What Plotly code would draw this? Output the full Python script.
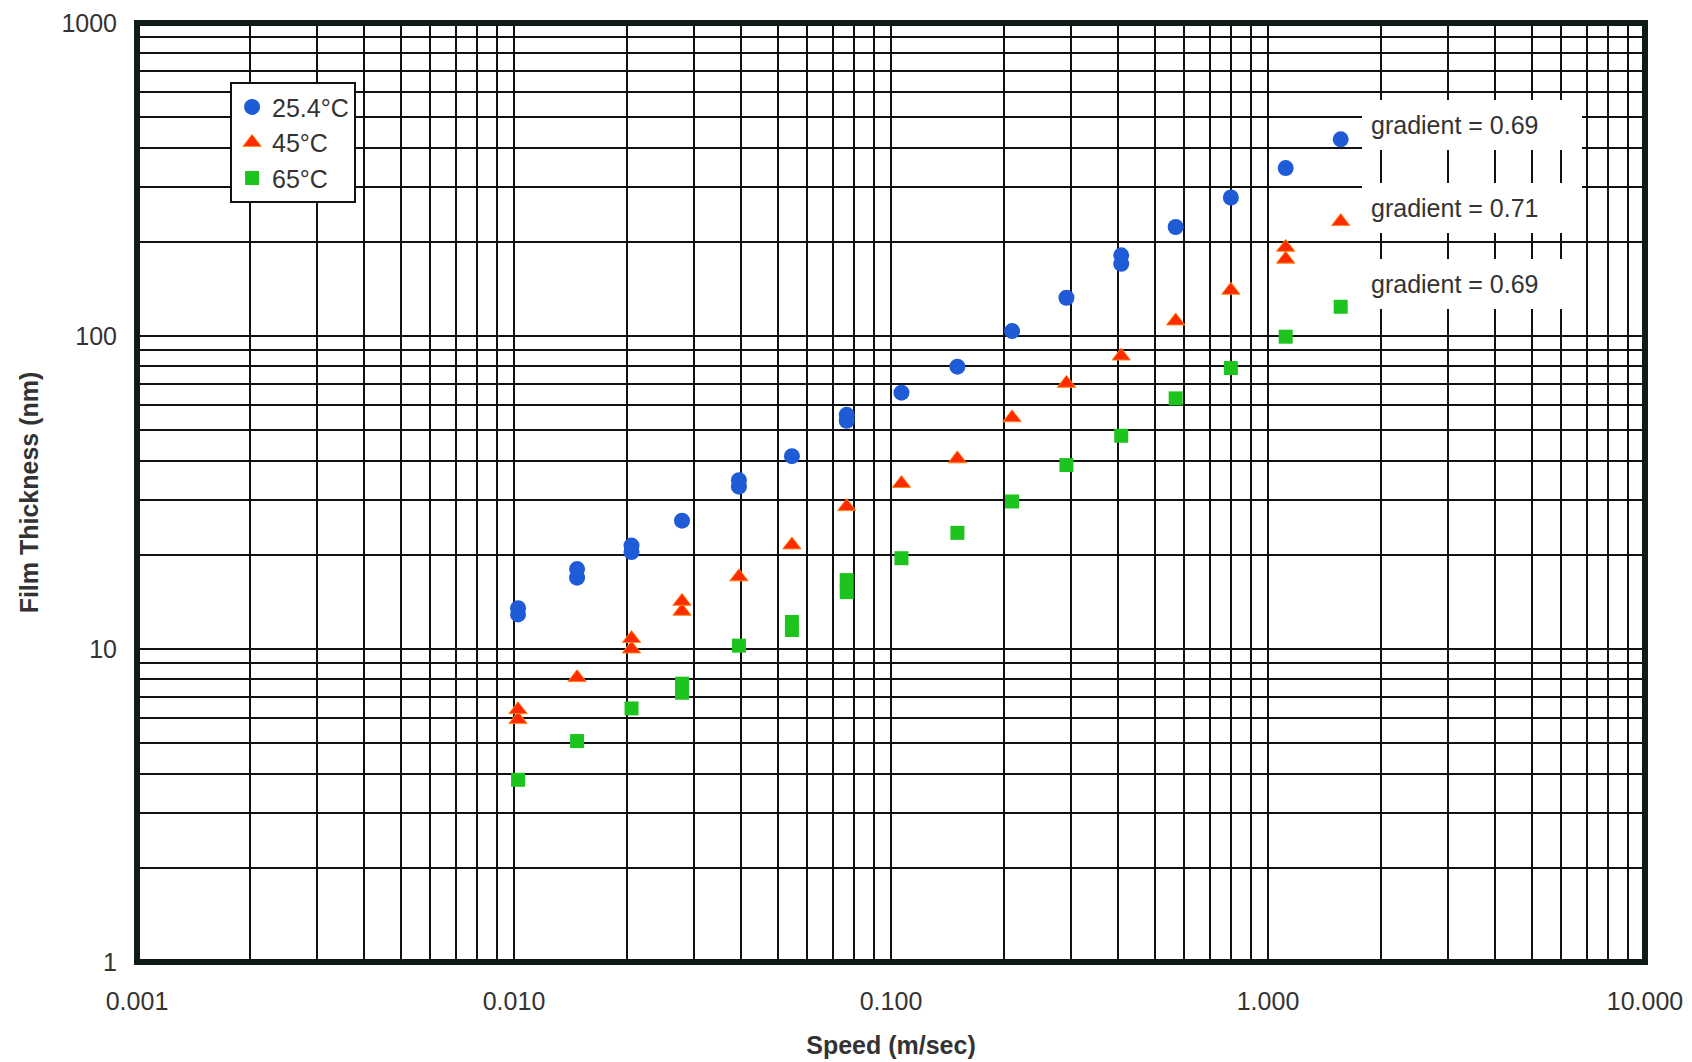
import math
import plotly.graph_objects as go

# Sliding speed (m/s) and measured film thickness (nm) for each temperature run
speed_254 = [0.01025, 0.01025, 0.0147, 0.0147, 0.0205, 0.0205, 0.0279, 0.0395, 0.0395,
             0.0546, 0.0763, 0.0763, 0.1066, 0.150, 0.2095, 0.292, 0.408, 0.408,
             0.569, 0.797, 1.114, 1.559]
film_254 = [12.9, 13.5, 16.9, 18.0, 20.4, 21.4, 25.7, 33.0, 34.6,
            41.3, 53.6, 56.0, 65.9, 79.8, 103.7, 132.5, 170, 181,
            223, 277, 344, 425]

speed_45 = [0.01025, 0.01025, 0.0147, 0.0205, 0.0205, 0.0279, 0.0279, 0.0395,
            0.0546, 0.0763, 0.1066, 0.150, 0.2095, 0.292, 0.408, 0.569,
            0.797, 1.114, 1.114, 1.559]
film_45 = [5.95, 6.4, 8.1, 10.0, 10.8, 13.2, 14.2, 17.0,
           21.5, 28.5, 33.8, 40.5, 54.8, 70.6, 86.3, 111.7,
           140, 176, 192, 232]

speed_65 = [0.01025, 0.0147, 0.0205, 0.0279, 0.0279, 0.0395, 0.0546, 0.0546,
            0.0763, 0.0763, 0.1066, 0.150, 0.2095, 0.292, 0.408, 0.569,
            0.797, 1.114, 1.559]
film_65 = [3.82, 5.08, 6.46, 7.25, 7.75, 10.25, 11.5, 12.2,
           15.2, 16.6, 19.5, 23.5, 29.6, 38.7, 48.0, 63.2,
           79, 99.5, 124]

series_names = ["25.4°C", "45°C", "65°C"]
gradient_labels = ["gradient = 0.69", "gradient = 0.71", "gradient = 0.69"]
# anchor positions (speed, film thickness) for the gradient notes
gradient_x = [1.78, 1.78, 1.78]
gradient_y = [472, 257, 147]

FONT = "Liberation Sans, Arial, sans-serif"
TEXT = "#333333"
GRID = "#111111"

fig = go.Figure()
fig.add_trace(go.Scatter(
    x=speed_254, y=film_254, mode="markers", name=series_names[0],
    marker=dict(symbol="circle", size=16, color="#1f5bd6", line=dict(width=0)),
))
fig.add_trace(go.Scatter(
    x=speed_45, y=film_45, mode="markers", name=series_names[1],
    marker=dict(symbol="triangle-up", size=16, color="#ff2a00",
                line=dict(width=1, color="#ff8a1a")),
))
fig.add_trace(go.Scatter(
    x=speed_65, y=film_65, mode="markers", name=series_names[2],
    marker=dict(symbol="square", size=14, color="#1ec41e", line=dict(width=0)),
))

# white-backed gradient notes to the right of the data
for txt, gx, gy in zip(gradient_labels, gradient_x, gradient_y):
    fig.add_annotation(
        x=math.log10(gx), y=math.log10(gy), xref="x", yref="y",
        text=txt, showarrow=False, xanchor="left", yanchor="middle",
        align="left", width=202, height=32, borderpad=9,
        bgcolor="white", borderwidth=0,
        font=dict(family=FONT, size=25, color=TEXT),
    )

# heavy frame centred on the plot-area edges
fig.add_shape(
    type="rect", xref="paper", yref="paper", x0=0, x1=1, y0=0, y1=1,
    line=dict(color="#0e1c15", width=6), fillcolor="rgba(0,0,0,0)", layer="above",
)

axis_common = dict(
    type="log",
    showline=False,
    showgrid=True, gridcolor=GRID, gridwidth=2,
    minor=dict(dtick="D1", showgrid=True, gridcolor=GRID, gridwidth=2, ticks=""),
    ticks="", zeroline=False,
    tickfont=dict(family=FONT, size=25, color=TEXT),
)

fig.update_xaxes(
    **axis_common,
    range=[-3, 1], dtick=1, tickformat=".3f",
    ticklabelstandoff=22,
    title=dict(text="Speed (m/sec)", standoff=22,
               font=dict(family=FONT, size=25, color=TEXT, weight="bold")),
)
fig.update_yaxes(
    **axis_common,
    range=[0, 3], dtick=1, tickformat="d",
    ticklabelstandoff=19,
    title=dict(text="Film Thickness (nm)", standoff=15,
               font=dict(family=FONT, size=25, color=TEXT, weight="bold")),
)

fig.update_layout(
    width=1692, height=1062,
    margin=dict(l=137, r=47, t=23, b=100, autoexpand=False),
    paper_bgcolor="white", plot_bgcolor="white",
    font=dict(family=FONT, color=TEXT),
    showlegend=True,
    legend=dict(
        x=0.0617, y=0.937, xanchor="left", yanchor="top",
        bgcolor="white", bordercolor=GRID, borderwidth=2,
        font=dict(family=FONT, size=25, color=TEXT),
        itemwidth=30,
    ),
)

fig.write_html("out.html")
